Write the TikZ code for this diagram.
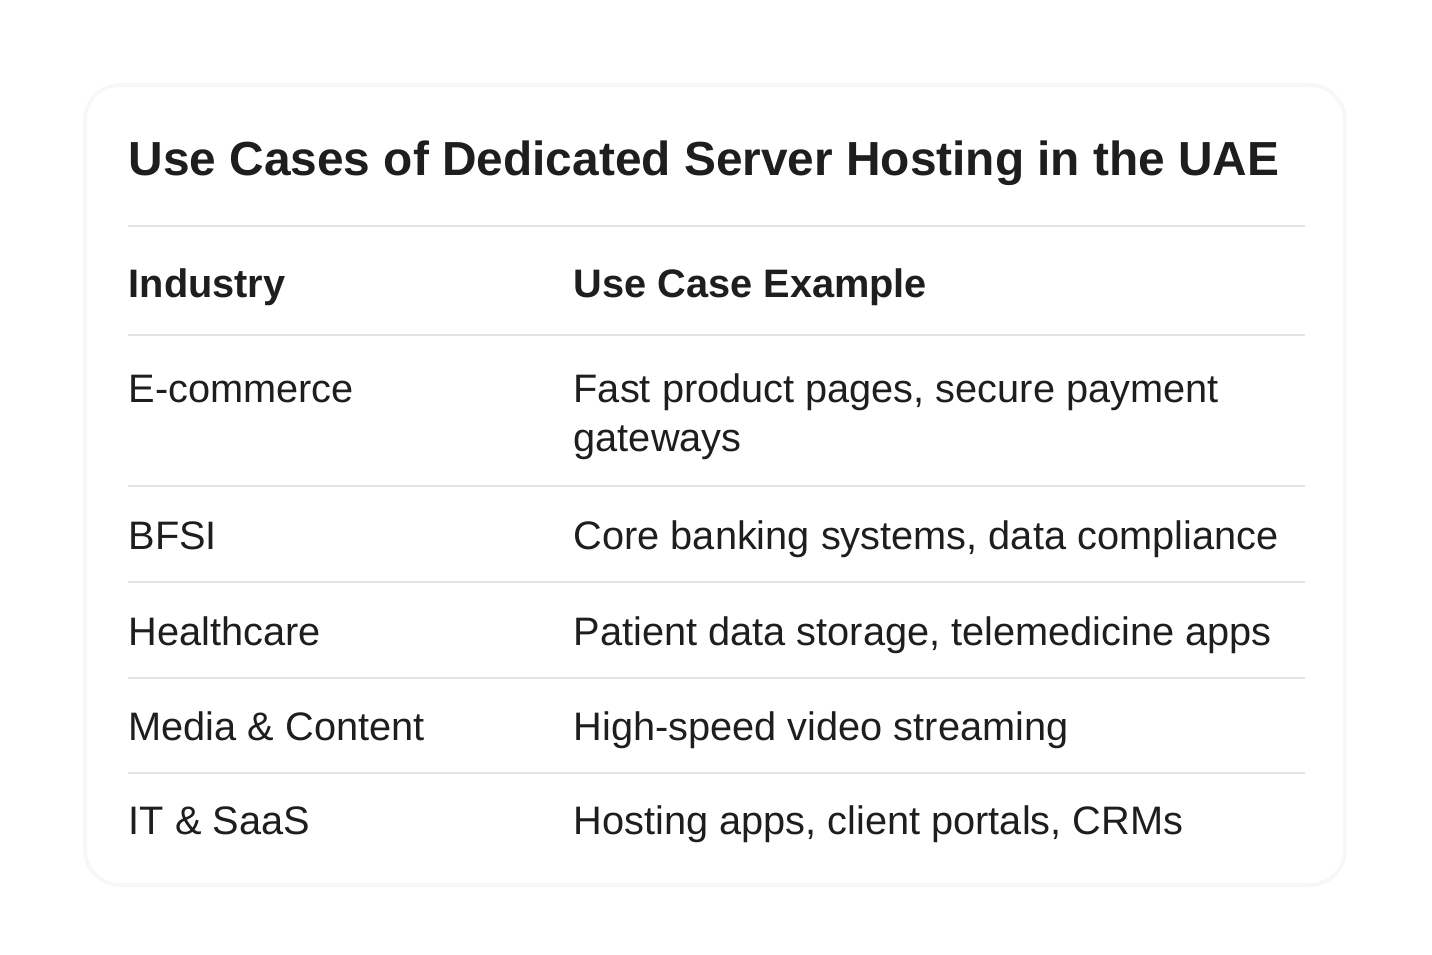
\documentclass[tikz,border=0pt]{standalone}
\usepackage{fontspec}
\setmainfont{Liberation Sans}
\usetikzlibrary{positioning}
\definecolor{rulegray}{HTML}{E2E2E2}
\definecolor{inkdark}{HTML}{1E1E1E}
\begin{document}
\begin{tikzpicture}[x=0.01cm,y=-0.01cm]
\tikzset{cell/.style={anchor=base west,inner sep=0pt,text=inkdark,font=\fontsize{11.3pt}{14pt}\selectfont},
  head/.style={cell,font=\fontsize{11.3pt}{14pt}\selectfont\bfseries},
  rowline/.style={draw=rulegray,line width=0.6pt}}
\useasboundingbox (0,0) rectangle (1432,955);
\fill[white] (0,0) rectangle (1432,955);
\draw[draw=gray!6,line width=1pt,rounded corners=10pt] (85,85) rectangle (1345,885);

\node[cell,font=\fontsize{13.6pt}{16pt}\selectfont\bfseries] (title) at (128,176) {Use Cases of Dedicated Server Hosting in the UAE};

\foreach \y [count=\i] in {226,335,486,582,678,773}
  \draw[rowline] (128,\y) coordinate (l\i) -- (1305,\y) coordinate (r\i);

\node[head] (h1) at (128,298) {Industry};
\node[head] (h2) at (573,298) {Use Case Example};

\node[cell] (a1) at (128,403) {E-commerce};
\node[cell] (b1) at (573,403) {Fast product pages, secure payment};
\node[cell] (b1x) at (573,452) {gateways};
\node[cell] (a2) at (128,550) {BFSI};
\node[cell] (b2) at (573,550) {Core banking systems, data compliance};
\node[cell] (a3) at (128,646) {Healthcare};
\node[cell] (b3) at (573,646) {Patient data storage, telemedicine apps};
\node[cell] (a4) at (128,741) {Media \& Content};
\node[cell] (b4) at (573,741) {High-speed video streaming};
\node[cell] (a5) at (128,835) {IT \& SaaS};
\node[cell] (b5) at (573,835) {Hosting apps, client portals, CRMs};
\end{tikzpicture}
\end{document}
